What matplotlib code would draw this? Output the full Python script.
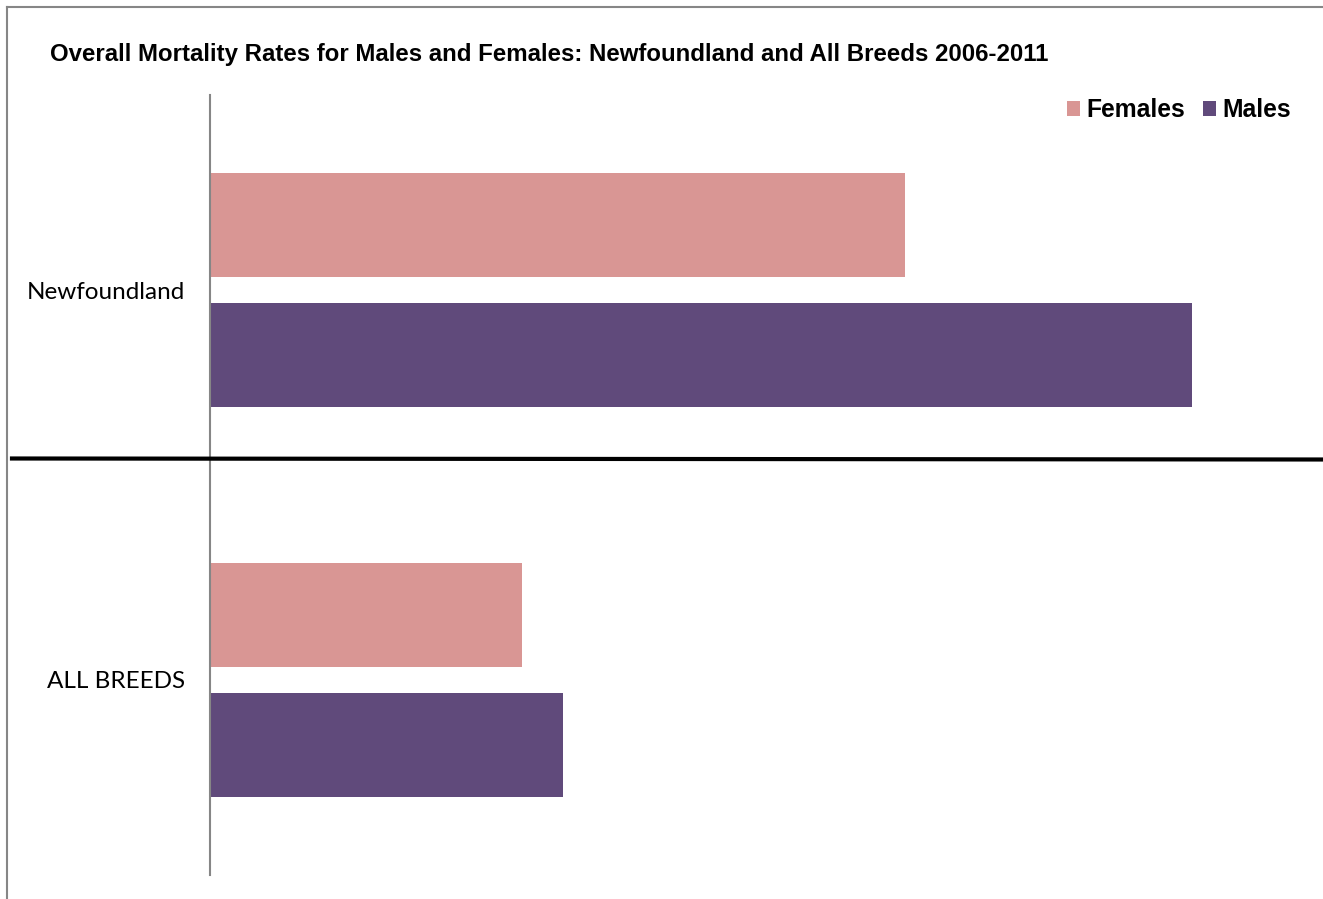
import matplotlib.pyplot as plt
from matplotlib.lines import Line2D
import numpy as np

plt.rcParams['font.family'] = ['Liberation Sans', 'DejaVu Sans']

breeds = ["Newfoundland", "ALL BREEDS"]
females = [9.36, 4.2]
males = [13.23, 4.76]

W, H = 1323, 899
fig = plt.figure(figsize=(W / 100, H / 100), dpi=100)

# obszar wykresu w pikselach
x0, x1, y0, y1 = 210, 1323, 95, 875
ax = fig.add_axes([x0 / W, 1 - y1 / H, (x1 - x0) / W, (y1 - y0) / H])

pos = np.arange(len(breeds))
h = 0.2667
bf = ax.barh(pos - 0.1667, females, height=h, color='#D99694', label='Females')
bm = ax.barh(pos + 0.1667, males, height=h, color='#604A7B', label='Males')

ax.set_xlim(0, 15)
ax.set_ylim(1.5, -0.5)
ax.set_yticks(pos)
ax.set_yticklabels(breeds, family=['Lato', 'DejaVu Sans'], fontsize=17.5)
ax.tick_params(axis='y', length=0, pad=18)
ax.set_xticks([])
for s in ['top', 'right', 'bottom']:
    ax.spines[s].set_visible(False)
ax.spines['left'].set_color('#868686')
ax.spines['left'].set_linewidth(1.5)

# tytul
fig.text(50 / W, 1 - 54 / H, "Overall Mortality Rates for Males and Females: Newfoundland and All Breeds 2006-2011",
         fontsize=17.3, fontweight='bold', va='center', ha='left')

# legenda
leg = fig.legend(handles=[bf, bm], loc='center right', bbox_to_anchor=(1313 / W, 1 - 110 / H),
                 ncol=2, frameon=False, handlelength=0.55, handleheight=0.55, handletextpad=0.25,
                 columnspacing=0.7, prop={'weight': 'bold', 'size': 17.7})

# ramka i linia podzialu
fig.add_artist(Line2D([7 / W, 7 / W], [0, 1 - 7 / H], color='#868686', lw=1.5))
fig.add_artist(Line2D([7 / W, 1], [1 - 7 / H, 1 - 7 / H], color='#868686', lw=1.5))
fig.add_artist(Line2D([12 / W, 1], [1 - 458.5 / H, 1 - 459.5 / H], color='black', lw=3))

fig.savefig('out.png', dpi=100)
